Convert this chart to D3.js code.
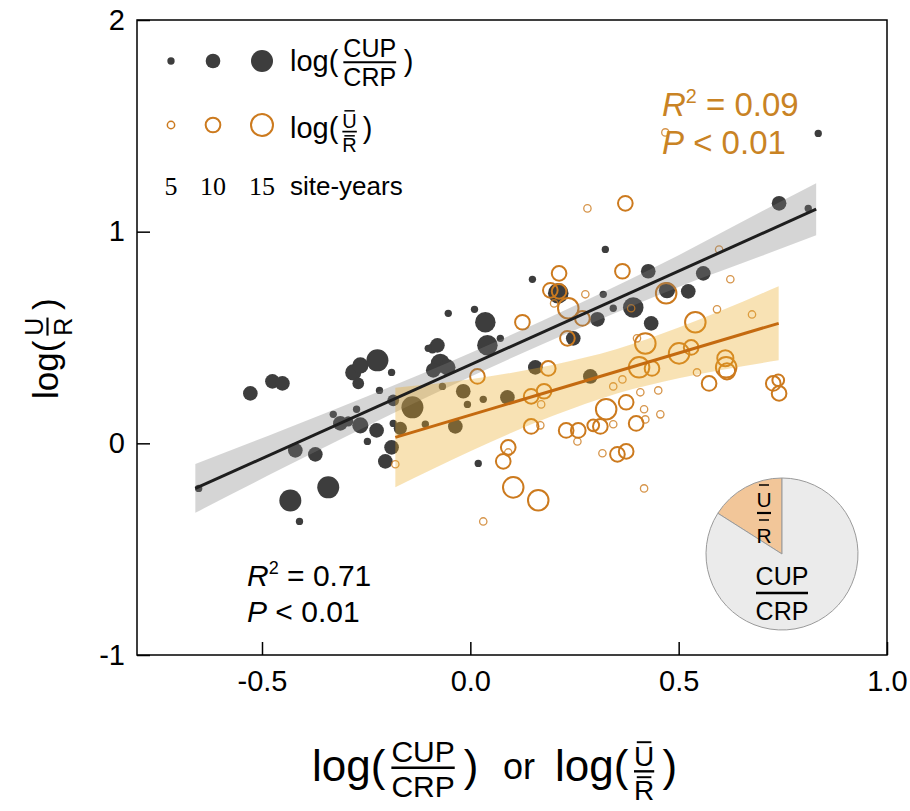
<!DOCTYPE html>
<html>
<head>
<meta charset="utf-8">
<script src="https://cdn.jsdelivr.net/npm/d3@7"></script>
<style>
body { margin: 0; background: #fff; }
svg { font-family: "Liberation Sans", Arial, sans-serif; }
text { white-space: pre; }
</style>
</head>
<body>
<div id="chart"></div>
<script>
var width = 910;
var height = 811;

// log(CUP/CRP) points: x, y, site-years
var cupX = [-0.652,-0.528,-0.475,-0.451,-0.420,-0.372,-0.341,-0.432,-0.410,-0.329,-0.312,-0.293,-0.273,-0.264,-0.281,-0.264,-0.223,-0.269,-0.218,-0.189,-0.225,-0.247,-0.185,-0.139,-0.185,-0.168,-0.108,-0.189,-0.204,-0.091,-0.079,-0.072,-0.055,-0.089,-0.067,-0.017,-0.007,-0.036,0.019,-0.053,0.010,0.036,0.041,0.072,0.031,0.089,0.156,0.288,0.324,0.149,0.211,0.319,0.343,0.391,0.427,0.434,0.305,0.247,0.472,0.523,0.559,0.741,0.811,0.835,-0.101];
var cupY = [-0.213,0.236,0.293,0.283,-0.033,-0.052,-0.208,-0.270,-0.369,0.137,0.094,0.104,0.161,0.085,0.335,0.368,0.392,0.283,0.250,0.335,0.061,0.009,0.203,0.170,0.094,0.071,0.090,-0.019,-0.085,0.449,0.463,0.378,0.359,0.345,0.269,0.246,0.184,0.080,-0.095,0.614,0.633,0.572,0.463,0.496,0.208,0.217,0.359,0.316,0.916,0.775,0.709,0.704,0.638,0.642,0.813,0.567,0.586,0.496,0.723,0.718,0.803,1.134,1.110,1.464,0.449];
var cupN = [5,10,10,10,10,10,15,15,5,5,10,7,5,11,11,11,15,8,5,5,10,5,8,15,5,9,5,10,10,7,10,13,11,10,5,10,5,10,5,5,5,14,14,5,5,10,10,10,5,5,14,5,5,14,10,10,10,10,11,10,10,10,5,5,5];

// log(mean U / mean R) points
var uX = [0.372,0.281,0.213,0.192,0.213,0.235,0.276,0.201,0.365,0.269,0.125,0.233,0.386,0.470,0.420,0.400,0.187,0.405,0.436,0.597,0.624,0.592,0.676,0.540,0.501,0.530,0.612,0.614,0.616,0.544,0.573,0.451,0.727,0.739,0.741,0.408,0.017,0.146,0.177,0.170,0.343,0.365,0.374,0.326,0.417,0.398,0.420,0.456,0.146,0.168,0.230,0.259,0.257,0.295,0.312,0.343,0.317,0.353,0.374,0.091,0.091,0.079,0.103,0.163,0.031,0.417,-0.180,0.468];
var uY = [1.134,1.110,0.803,0.723,0.718,0.638,0.704,0.661,0.813,0.590,0.572,0.496,0.638,0.709,0.472,0.496,0.354,0.359,0.354,0.916,0.775,0.633,0.609,0.572,0.425,0.453,0.402,0.359,0.340,0.335,0.283,0.250,0.283,0.298,0.236,0.241,0.316,0.222,0.246,0.184,0.269,0.302,0.194,0.161,0.161,0.094,0.113,0.137,0.080,0.085,0.061,0.061,0.009,0.085,0.080,0.090,-0.047,-0.052,-0.038,-0.019,-0.043,-0.085,-0.208,-0.269,-0.369,-0.213,-0.099,1.469];
var uN = [10,5,10,10,10,14,5,5,10,10,10,10,5,14,14,5,10,14,10,5,5,5,5,14,14,10,11,14,11,5,10,5,10,8,10,5,10,10,10,5,5,5,10,14,5,10,5,5,10,5,10,10,5,8,10,5,5,10,10,10,5,10,14,14,5,5,5,5];

// fitted lines and confidence bands
var cupLineX = [-0.66, 0.83];
var cupLineY = [-0.213, 1.106];
var cupBandX = [-0.66, -0.45, -0.25, 0.0, 0.25, 0.5, 0.7, 0.83];
var cupBandHi = [-0.098, 0.063, 0.22, 0.427, 0.65, 0.889, 1.096, 1.229];
var cupBandLo = [-0.328, -0.117, 0.08, 0.315, 0.534, 0.739, 0.886, 0.983];

var uLineX = [-0.18, 0.74];
var uLineY = [0.028, 0.567];
var uBandX = [-0.18, 0.0, 0.2, 0.35, 0.5, 0.74];
var uBandHi = [0.263, 0.303, 0.371, 0.444, 0.547, 0.742];
var uBandLo = [-0.207, -0.037, 0.131, 0.234, 0.307, 0.392];

var xTicks = [-0.5, 0.0, 0.5, 1.0];
var yTicks = [-1, 0, 1, 2];
var legendN = [5, 10, 15];
var pieShares = [0.16, 0.84]; // U/R part, CUP/CRP part

var darkCol = "#3d3d3d";
var orange = "#cc7a1e";
var orangeText = "#c98324";

var svg = d3.select("#chart").append("svg")
    .attr("width", width)
    .attr("height", height);

var x = d3.scaleLinear().domain([-0.8, 1.0]).range([137, 887]);
var y = d3.scaleLinear().domain([-1, 2]).range([655, 20]);
var r = d3.scaleLinear().domain([0, 15]).range([0, 11]);

var cup = cupX.map(function(d, i) { return {x: d, y: cupY[i], n: cupN[i]}; });
var ur = uX.map(function(d, i) { return {x: d, y: uY[i], n: uN[i]}; });

svg.append("g").selectAll("circle")
    .data(cup)
    .enter()
    .append("circle")
    .attr("cx", function(d) { return x(d.x); })
    .attr("cy", function(d) { return y(d.y); })
    .attr("r", function(d) { return r(d.n); })
    .attr("fill", darkCol);

svg.append("g").selectAll("circle")
    .data(ur)
    .enter()
    .append("circle")
    .attr("cx", function(d) { return x(d.x); })
    .attr("cy", function(d) { return y(d.y); })
    .attr("r", function(d) { return r(d.n); })
    .attr("fill", "none")
    .attr("stroke", orange)
    .attr("stroke-opacity", function(d) { return d.n <= 5 ? 0.8 : 1; })
    .attr("stroke-width", function(d) { return d.n <= 5 ? 1.3 : 2; });

function band(bx, hi, lo) {
    var pts = bx.map(function(d, i) { return {x: d, hi: hi[i], lo: lo[i]}; });
    return d3.area()
        .curve(d3.curveMonotoneX)
        .x(function(d) { return x(d.x); })
        .y0(function(d) { return y(d.lo); })
        .y1(function(d) { return y(d.hi); })(pts);
}

svg.append("path")
    .attr("d", band(cupBandX, cupBandHi, cupBandLo))
    .attr("fill", "#7f7f7f")
    .attr("fill-opacity", 0.33);

svg.append("path")
    .attr("d", band(uBandX, uBandHi, uBandLo))
    .attr("fill", "#eaab28")
    .attr("fill-opacity", 0.35);

var line = d3.line()
    .x(function(d) { return x(d[0]); })
    .y(function(d) { return y(d[1]); });

svg.append("path")
    .attr("d", line(d3.zip(cupLineX, cupLineY)))
    .attr("stroke", "#1e1e1e")
    .attr("stroke-width", 3)
    .attr("fill", "none");

svg.append("path")
    .attr("d", line(d3.zip(uLineX, uLineY)))
    .attr("stroke", "#c46a10")
    .attr("stroke-width", 3)
    .attr("fill", "none");

// axes, ticks pointing inward
var xAxis = svg.append("g")
    .attr("transform", "translate(0,655)")
    .call(d3.axisBottom(x).tickValues(xTicks).tickSize(-13).tickPadding(15)
        .tickFormat(function(d) { return d.toFixed(1); }));
var yAxis = svg.append("g")
    .attr("transform", "translate(137,0)")
    .call(d3.axisLeft(y).tickValues(yTicks).tickSize(-13).tickPadding(12)
        .tickFormat(function(d) { return String(d); }));
[xAxis, yAxis].forEach(function(a) {
    a.select(".domain").remove();
    a.selectAll("line").attr("stroke", "#000").attr("stroke-width", 1.5);
    a.selectAll("text").style("font-size", "29px").style("font-family", "'Liberation Sans', Arial, sans-serif").attr("fill", "#000");
});

svg.append("rect")
    .attr("x", 137).attr("y", 20)
    .attr("width", 750).attr("height", 635)
    .attr("fill", "none")
    .attr("stroke", "#000")
    .attr("stroke-width", 1.5);

// "log( num / den )" built from pieces
function logFrac(parent, num, den, logSize, fracSize, over, color) {
    color = color || "#000";
    var g = parent.append("g").attr("fill", color);
    var t = g.append("text").style("font-size", logSize + "px").text("log(");
    var x0 = t.node().getComputedTextLength() + fracSize * 0.2;
    var ax = over ? -logSize * 0.22 : -logSize * 0.3;
    var nb = ax - fracSize * 0.2;
    var db = ax + (over ? 0.3 : 0.22) * fracSize + fracSize * 0.74;
    var n = g.append("text").attr("y", nb).attr("text-anchor", "middle")
        .style("font-size", fracSize + "px").text(num);
    var d = g.append("text").attr("y", db).attr("text-anchor", "middle")
        .style("font-size", fracSize + "px").text(den);
    var wn = n.node().getComputedTextLength(), wd = d.node().getComputedTextLength();
    var w = Math.max(wn, wd);
    var cx = x0 + w / 2;
    n.attr("x", cx);
    d.attr("x", cx);
    g.append("line")
        .attr("x1", x0).attr("x2", x0 + w)
        .attr("y1", ax).attr("y2", ax)
        .attr("stroke", color).attr("stroke-width", Math.max(1.6, fracSize * 0.085));
    if (over) {
        [[nb - fracSize * 0.84, wn], [db - fracSize * 0.83, wd]].forEach(function(b) {
            g.append("line")
                .attr("x1", cx - b[1] * 0.36).attr("x2", cx + b[1] * 0.36)
                .attr("y1", b[0]).attr("y2", b[0])
                .attr("stroke", color).attr("stroke-width", Math.max(1.5, fracSize * 0.07));
        });
    }
    g.append("text").attr("x", x0 + w + fracSize * 0.3)
        .style("font-size", logSize + "px").text(")");
    return g;
}

// legend
var leg = svg.append("g");
leg.selectAll(".ld").data(legendN).enter().append("circle")
    .attr("cx", function(d, i) { return [171, 213, 262][i]; })
    .attr("cy", 61)
    .attr("r", function(d) { return r(d); })
    .attr("fill", darkCol);
leg.selectAll(".lo").data(legendN).enter().append("circle")
    .attr("cx", function(d, i) { return [171, 213, 262][i]; })
    .attr("cy", 125)
    .attr("r", function(d) { return r(d); })
    .attr("fill", "none")
    .attr("stroke", orange)
    .attr("stroke-width", function(d) { return d <= 5 ? 1.5 : 2; });
leg.selectAll(".ln").data(legendN).enter().append("text")
    .attr("x", function(d, i) { return [171, 213, 262][i]; })
    .attr("y", 195)
    .attr("text-anchor", "middle")
    .style("font-family", "'Liberation Serif', 'Times New Roman', serif")
    .style("font-size", "26px")
    .text(function(d) { return d; });
leg.append("text").attr("x", 290).attr("y", 195).style("font-size", "26px").text("site-years");
logFrac(leg, "CUP", "CRP", 29, 25, false).attr("transform", "translate(290,71)");
logFrac(leg, "U", "R", 29, 20, true).attr("transform", "translate(290,138)");

// R2 / P annotations
function stat(xp, yp, val, color, fs, gap) {
    var t = svg.append("text").attr("x", xp).attr("y", yp).attr("fill", color).style("font-size", fs + "px");
    t.append("tspan").style("font-style", "italic").text("R");
    t.append("tspan").attr("dy", -fs * 0.4).style("font-size", (fs * 0.6) + "px").text("2");
    t.append("tspan").attr("dy", fs * 0.4).text(" = " + val);
    var p = svg.append("text").attr("x", xp).attr("y", yp + gap).attr("fill", color).style("font-size", fs + "px");
    p.append("tspan").style("font-style", "italic").text("P");
    p.append("tspan").text(" < 0.01");
}
stat(662, 116, "0.09", orangeText, 33, 38);
stat(247, 586, "0.71", "#000", 30, 36);

// pie inset
var pie = d3.pie().sort(null).startAngle(-pieShares[0] * 2 * Math.PI).endAngle((1 - pieShares[0]) * 2 * Math.PI);
var arc = d3.arc().innerRadius(0).outerRadius(76);
var pg = svg.append("g").attr("transform", "translate(782,554)");
pg.selectAll("path").data(pie(pieShares)).enter().append("path")
    .attr("d", arc)
    .attr("fill", function(d, i) { return i === 0 ? "#f2c699" : "#ebebeb"; })
    .attr("stroke", "#9a9a9a")
    .attr("stroke-width", 1);
pg.append("text").attr("x", 0).attr("y", 31).attr("text-anchor", "middle").style("font-size", "25px").text("CUP");
pg.append("line").attr("x1", -26).attr("x2", 26).attr("y1", 39).attr("y2", 39).attr("stroke", "#000").attr("stroke-width", 2.5);
pg.append("text").attr("x", 0).attr("y", 66).attr("text-anchor", "middle").style("font-size", "25px").text("CRP");
pg.append("text").attr("x", -18).attr("y", -47).attr("text-anchor", "middle").style("font-size", "21px").text("U");
pg.append("line").attr("x1", -23).attr("x2", -13).attr("y1", -69).attr("y2", -69).attr("stroke", "#000").attr("stroke-width", 1.5);
pg.append("line").attr("x1", -25).attr("x2", -11).attr("y1", -41).attr("y2", -41).attr("stroke", "#000").attr("stroke-width", 2.2);
pg.append("line").attr("x1", -23).attr("x2", -13).attr("y1", -34).attr("y2", -34).attr("stroke", "#000").attr("stroke-width", 1.5);
pg.append("text").attr("x", -18).attr("y", -11).attr("text-anchor", "middle").style("font-size", "21px").text("R");

// axis titles
var xt = svg.append("g").attr("transform", "translate(0,781)");
logFrac(xt, "CUP", "CRP", 44, 30, false).attr("transform", "translate(312,0)");
xt.append("text").attr("x", 503).attr("y", -2).style("font-size", "36px").text("or");
logFrac(xt, "U", "R", 44, 28, true).attr("transform", "translate(555,0)");

var yt = svg.append("g").attr("transform", "translate(58,399) rotate(-90)");
logFrac(yt, "U", "R", 35, 25, false);
</script>
</body>
</html>
